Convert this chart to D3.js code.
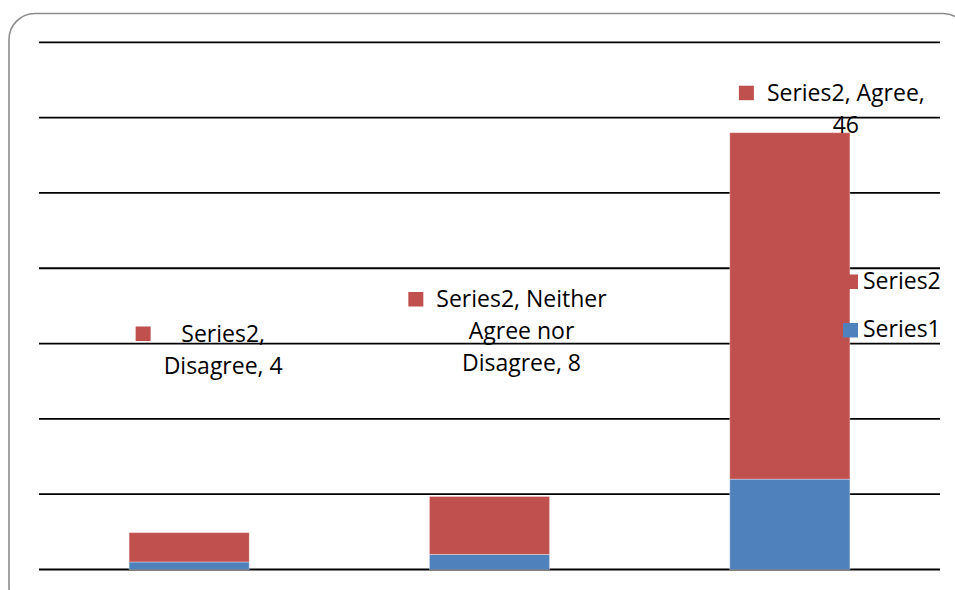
<!DOCTYPE html>
<html>
<head>
<meta charset="utf-8">
<script src="https://cdn.jsdelivr.net/npm/d3@7/dist/d3.min.js"></script>
<style>
  html, body { margin: 0; padding: 0; background: #fff; }
  svg { display: block; }
  text { font-family: "Open Sans", "Liberation Sans", sans-serif; fill: #000; }
</style>
</head>
<body>
<svg id="chart" width="955" height="590"></svg>
<script>
// ---- data ----
const categories = ["Disagree", "Neither Agree nor Disagree", "Agree"];
const seriesNames = ["Series1", "Series2"];
const series1 = [1, 2, 12];
const series2 = [3.9, 7.7, 46];
const yTicks = [0, 10, 20, 30, 40, 50, 60, 70];
const colors = { Series1: "#4F81BD", Series2: "#C0504D" };

// ---- layout ----
const W = 955, H = 590;
const plot = { left: 39, right: 940, top: 42.3, bottom: 569.5 };
const fontSize = 23;
const lineH = 32;
// label placement (offset of text centre from bar centre, first baseline)
const labelDx = [34, 32, 56];
const labelY = [341.5, 307, 100.7];
const wrapWidth = 178;

const svg = d3.select("#chart");

// frame
svg.append("rect")
  .attr("x", 9).attr("y", 13.5)
  .attr("width", 960).attr("height", 600)
  .attr("rx", 26).attr("ry", 26)
  .attr("fill", "#fff")
  .attr("stroke", "#8c8c8c")
  .attr("stroke-width", 1.6);

const x = d3.scaleBand().domain(categories)
  .range([plot.left, plot.right]).paddingInner(0.6).paddingOuter(0.3);
const y = d3.scaleLinear().domain([0, 70]).range([plot.bottom, plot.top]);

// gridlines
svg.append("g").selectAll("line").data(yTicks).join("line")
  .attr("x1", plot.left).attr("x2", plot.right)
  .attr("y1", d => y(d)).attr("y2", d => y(d))
  .attr("stroke", "#000").attr("stroke-width", 1.8);

// stack
const rows = categories.map((c, i) => ({ cat: c, Series1: series1[i], Series2: series2[i] }));
const stack = d3.stack().keys(seriesNames)(rows);

svg.append("g").selectAll("g").data(stack).join("g")
  .attr("fill", d => colors[d.key])
  .selectAll("rect").data(d => d).join("rect")
  .attr("x", d => x(d.data.cat))
  .attr("width", x.bandwidth())
  .attr("y", d => y(d[1]))
  .attr("height", d => y(d[0]) - y(d[1]))
  .attr("stroke", "rgba(255,255,255,0.35)")
  .attr("stroke-width", 1);

// data labels for Series2
const fmt = d3.format(".0f");
const labelsG = svg.append("g");
categories.forEach((c, i) => {
  const full = `Series2, ${c}, ${fmt(series2[i])}`;
  const words = full.split(" ");
  const cx = x(c) + x.bandwidth() / 2 + labelDx[i];
  const tmp = labelsG.append("text").attr("font-size", fontSize);
  const lines = [];
  let cur = "";
  words.forEach(w => {
    const test = cur ? cur + " " + w : w;
    tmp.text(test);
    if (cur && tmp.node().getComputedTextLength() > wrapWidth) {
      lines.push(cur); cur = w;
    } else cur = test;
  });
  if (cur) lines.push(cur);
  tmp.remove();
  let maxW = 0;
  lines.forEach((ln, k) => {
    const t = labelsG.append("text")
      .attr("x", cx).attr("y", labelY[i] + k * lineH)
      .attr("text-anchor", "middle")
      .attr("font-size", fontSize)
      .text(ln);
    maxW = Math.max(maxW, t.node().getComputedTextLength());
  });
  labelsG.append("rect")
    .attr("x", cx - maxW / 2 - 13 - 15)
    .attr("y", labelY[i] - 15)
    .attr("width", 15).attr("height", 14.5)
    .attr("fill", colors.Series2);
});

// legend
const legendItems = ["Series2", "Series1"];
const legendBase = [288.5, 337];
const lg = svg.append("g");
legendItems.forEach((s, k) => {
  lg.append("rect")
    .attr("x", 843).attr("y", legendBase[k] - 14)
    .attr("width", 15).attr("height", 14.5)
    .attr("fill", colors[s]);
  lg.append("text")
    .attr("x", 863).attr("y", legendBase[k])
    .attr("font-size", fontSize)
    .text(s);
});
</script>
</body>
</html>
